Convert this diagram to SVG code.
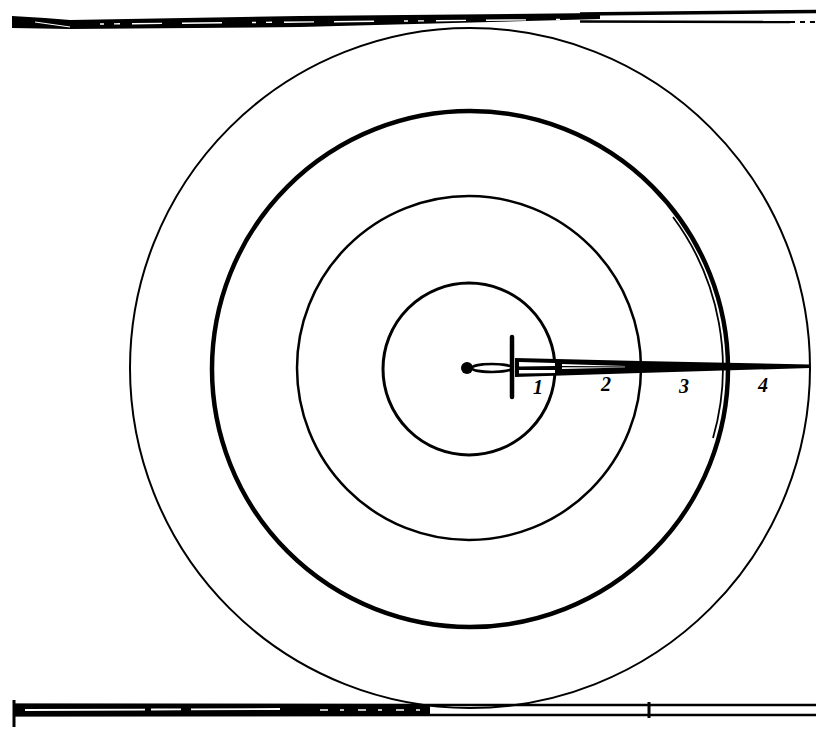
<svg xmlns="http://www.w3.org/2000/svg" width="816" height="729" viewBox="0 0 816 729">
<style>
.c{fill:none;stroke:#000}
.lbl{font-family:"Liberation Serif",serif;font-style:italic;font-weight:bold;font-size:20px;fill:#000}
</style>
<rect width="816" height="729" fill="#fff"/>
<g id="bars">
<path d="M12,16 L45,18 L70,20 L300,16 L600,13 L600,19 L300,27 L70,29 L12,28 Z" fill="#000"/>
<path d="M580,14 L816,11.5" stroke="#000" stroke-width="3.5"/>
<path d="M580,21.5 L790,22" stroke="#000" stroke-width="2.5"/>
<path d="M790,22 L816,22" stroke="#000" stroke-width="2" stroke-dasharray="5 5"/>
<path d="M35,22 L70,27" stroke="#fff" stroke-width="1.2"/>
<path d="M100,24 L560,19.5" stroke="#fff" stroke-width="1.4" stroke-dasharray="4 10 6 12 30 20 40 30"/>
<path d="M14,700 L14,727" stroke="#000" stroke-width="3"/>
<path d="M14,705 L816,705 M14,715 L816,715" stroke="#000" stroke-width="2.5"/>
<path d="M14,703.5 L430,704 L430,716 L14,716.5 Z" fill="#000"/>
<path d="M25,710 L280,709" stroke="#fff" stroke-width="1.8" stroke-dasharray="120 6 30 10"/>
<path d="M320,710 L420,710" stroke="#fff" stroke-width="1.5" stroke-dasharray="8 12 4 14"/>
<path d="M649,702 L649,718" stroke="#000" stroke-width="3"/>
</g>
<g id="circles">
<circle id="c1" class="c" cx="469" cy="369" r="86" stroke-width="3"/>
<circle id="c2" class="c" cx="469" cy="368" r="172" stroke-width="2.5"/>
<circle id="c3" class="c" cx="470" cy="369" r="258" stroke-width="4.5"/>
<path id="c3b" class="c" d="M673,217 A253,253 0 0,1 713,438" stroke-width="1.8"/>
<circle id="c4" class="c" cx="470" cy="368" r="340" stroke-width="2"/>
</g>
<g id="sword">
<circle cx="467" cy="368" r="6" fill="#000"/>
<ellipse cx="492" cy="368" rx="20" ry="4" fill="none" stroke="#000" stroke-width="2.5"/>
<path d="M512,337 L512,397" stroke="#000" stroke-width="4.5" stroke-linecap="round"/>
<path d="M515,358 L640,361 L810,364.5 L810,368 L640,373 L515,377 Z" fill="#000"/>
<path d="M519,362 L555,363 L555,366 L519,366.5 Z M519,370 L555,370 L555,373 L519,373.5 Z" fill="#fff"/>
<path d="M562,364 L625,366 L625,367.5 L562,369 Z" fill="#fff"/>
<path d="M562,366.6 L640,367" stroke="#000" stroke-width="1.2"/>
</g>
<g id="labels">
<text class="lbl" x="533" y="394">1</text>
<text class="lbl" x="601" y="391">2</text>
<text class="lbl" x="679" y="393">3</text>
<text class="lbl" x="758" y="392">4</text>
</g>
</svg>
